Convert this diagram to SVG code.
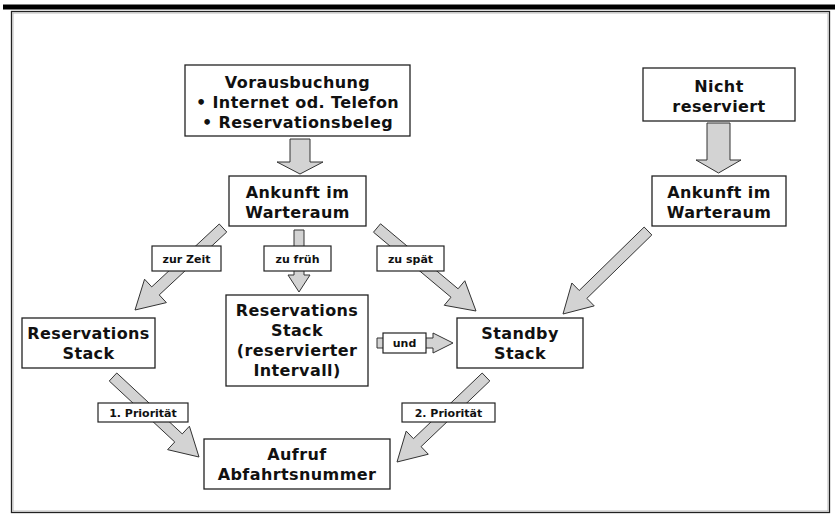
<svg xmlns="http://www.w3.org/2000/svg" width="835" height="518" viewBox="0 0 835 518">
<style>
  .box { fill: #ffffff; stroke: #222222; stroke-width: 1.3; }
  .lbl { fill: #ffffff; stroke: #222222; stroke-width: 1.2; }
  .arr { fill: #d3d3d3; stroke: #333333; stroke-width: 1; stroke-linejoin: miter; }
  .t { font-family: "DejaVu Sans", Verdana, sans-serif; font-weight: bold; font-size: 16px; letter-spacing: 0.4px; fill: #111111; text-anchor: middle; }
  .s { font-family: "DejaVu Sans", Verdana, sans-serif; font-weight: bold; font-size: 11px; fill: #111111; text-anchor: middle; }
</style>
<rect x="0" y="0" width="835" height="518" fill="#ffffff"/>
<rect x="3" y="4.5" width="832" height="5" fill="#000000"/>
<rect x="11.5" y="11.5" width="818" height="501" fill="none" stroke="#222222" stroke-width="1.3"/>
<rect x="13" y="13" width="815" height="498" fill="none" stroke="#aaaaaa" stroke-width="0.8"/>

<g id="connectors">
  <polygon class="arr" points="290,139 310,139 310,162 323,162 300,174 277,162 290,162"/>
  <polygon class="arr" points="707,123 730,123 730,160 741,160 718.5,173 696,160 707,160"/>
  <polygon class="arr" points="294,230 304,230 304,275 310,275 299,292 288,275 294,275"/>
  <polygon class="arr" points="219.25,223.98 151.73,286.89 144.57,279.20 135,310 166.39,302.62 159.23,294.93 226.75,232.02"/>
  <polygon class="arr" points="373.47,232.21 451.01,297.22 444.26,305.27 476,311 464.82,280.75 458.07,288.80 380.53,223.79"/>
  <polygon class="arr" points="644.16,227.06 579.19,290.50 571.85,282.99 563,314 594.21,305.89 586.87,298.38 651.84,234.94"/>
  <polygon class="arr" points="109.25,381.03 174.75,441.96 167.60,449.65 199,457 189.40,426.21 182.25,433.90 116.75,372.97"/>
  <polygon class="arr" points="482.20,373.02 413.45,438.68 406.20,431.09 397,462 428.30,454.23 421.05,446.64 489.80,380.98"/>
  <polygon class="arr" points="377,338 433,338 433,333 453,343 433,353 433,348 377,348"/>

  <g id="lbl-zurzeit"><rect class="lbl" x="152" y="246" width="69" height="25"/><text class="s" x="186.5" y="262.5">zur Zeit</text></g>
  <g id="lbl-zufrueh"><rect class="lbl" x="264" y="246" width="67" height="25"/><text class="s" x="297.5" y="262.5">zu früh</text></g>
  <g id="lbl-zuspaet"><rect class="lbl" x="377" y="246" width="67" height="25"/><text class="s" x="410.5" y="262.5">zu spät</text></g>
  <g id="lbl-und"><rect class="lbl" x="383" y="333" width="43" height="20"/><text class="s" x="404.5" y="347">und</text></g>
  <g id="lbl-prio1"><rect class="lbl" x="98" y="403" width="90" height="19"/><text class="s" x="143" y="416.5">1. Priorität</text></g>
  <g id="lbl-prio2"><rect class="lbl" x="402" y="403" width="93" height="19"/><text class="s" x="448.5" y="416.5">2. Priorität</text></g>
</g>

<g id="voraus">
  <rect class="box" x="185" y="65" width="225" height="71"/>
  <text class="t" x="297.5" y="88">Vorausbuchung</text>
  <text class="t" x="297.5" y="108">• Internet od. Telefon</text>
  <text class="t" x="297.5" y="128">• Reservationsbeleg</text>
</g>
<g id="ankunft1">
  <rect class="box" x="229" y="176" width="137" height="50"/>
  <text class="t" x="297.5" y="197.5">Ankunft im</text>
  <text class="t" x="297.5" y="217.5">Warteraum</text>
</g>
<g id="nicht">
  <rect class="box" x="643" y="68" width="152" height="53"/>
  <text class="t" x="719" y="92">Nicht</text>
  <text class="t" x="719" y="112">reserviert</text>
</g>
<g id="ankunft2">
  <rect class="box" x="652" y="176" width="134" height="50"/>
  <text class="t" x="719" y="197.5">Ankunft im</text>
  <text class="t" x="719" y="217.5">Warteraum</text>
</g>
<g id="resstack">
  <rect class="box" x="22" y="318" width="133" height="50"/>
  <text class="t" x="88.5" y="339">Reservations</text>
  <text class="t" x="88.5" y="359">Stack</text>
</g>
<g id="resstack2">
  <rect class="box" x="226" y="295" width="142" height="91"/>
  <text class="t" x="297" y="316">Reservations</text>
  <text class="t" x="297" y="336">Stack</text>
  <text class="t" x="297" y="356">(reservierter</text>
  <text class="t" x="297" y="376">Intervall)</text>
</g>
<g id="standby">
  <rect class="box" x="457" y="318" width="126" height="50"/>
  <text class="t" x="520" y="339">Standby</text>
  <text class="t" x="520" y="359">Stack</text>
</g>
<g id="aufruf">
  <rect class="box" x="204" y="439" width="186" height="50"/>
  <text class="t" x="297" y="460">Aufruf</text>
  <text class="t" x="297" y="480">Abfahrtsnummer</text>
</g>
</svg>
